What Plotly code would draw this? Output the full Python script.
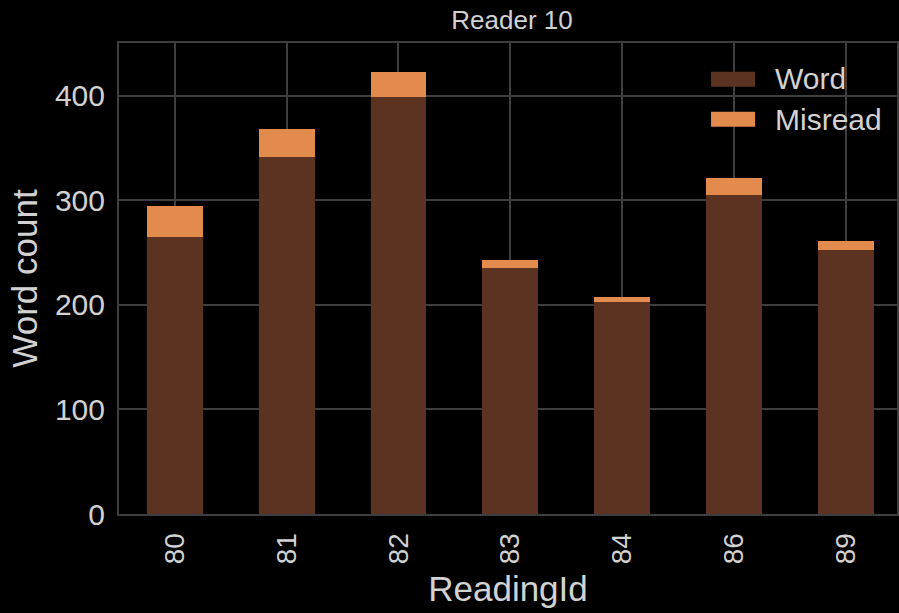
import plotly.graph_objects as go

reading_ids = ["80", "81", "82", "83", "84", "86", "89"]
word_counts = [265, 342, 399, 235, 203, 305, 253]
misread_counts = [30, 26, 24, 8, 5, 16, 8]
series_names = ["Word", "Misread"]

word_color = "#5c3320"
misread_color = "#e38a4d"
text_color = "#d2d2d2"
grid_color = "#3e3e3e"
font_family = "Liberation Sans, Arial, sans-serif"

fig = go.Figure()
fig.add_trace(go.Bar(x=reading_ids, y=word_counts, name=series_names[0],
                     marker=dict(color=word_color, line=dict(width=0)), width=0.5))
fig.add_trace(go.Bar(x=reading_ids, y=misread_counts, name=series_names[1],
                     marker=dict(color=misread_color, line=dict(width=0)), width=0.5))

# legend drawn as patches + labels (matplotlib-style wide patches)
legend_colors = [word_color, misread_color]
legend_rows = [(0.9072, 0.9391, 0.9236), (0.8223, 0.8542, 0.8386)]
for name, col, (y0, y1, yc) in zip(series_names, legend_colors, legend_rows):
    fig.add_shape(type="rect", xref="paper", yref="paper",
                  x0=0.761, x1=0.8176, y0=y0, y1=y1,
                  fillcolor=col, line=dict(width=0), layer="above")
    fig.add_annotation(xref="paper", yref="paper", x=0.841, y=yc,
                       xanchor="left", yanchor="middle", text=name, showarrow=False,
                       font=dict(size=30, color=text_color))

fig.update_layout(
    barmode="stack",
    width=899, height=613,
    showlegend=False,
    paper_bgcolor="black", plot_bgcolor="black",
    margin=dict(l=119, r=0, t=43, b=99),
    font=dict(family=font_family, color=text_color, size=30),
    title=dict(text="Reader 10", x=0.5695, xanchor="center", y=0.967, yanchor="middle",
               font=dict(size=26, color=text_color)),
    xaxis=dict(
        range=[-0.5, 6.46], type="category",
        tickangle=-90, showgrid=True, gridcolor=grid_color, gridwidth=2,
        showline=True, linecolor=grid_color, linewidth=2, mirror=True,
        ticks="", ticklabelstandoff=6,
        title=dict(text="ReadingId", font=dict(size=35), standoff=13),
        tickfont=dict(size=28),
    ),
    yaxis=dict(
        range=[0, 450.6], tickvals=[0, 100, 200, 300, 400],
        showgrid=True, gridcolor=grid_color, gridwidth=2,
        showline=True, linecolor=grid_color, linewidth=2, mirror=True,
        zeroline=False, ticks="", ticklabelstandoff=6,
        title=dict(text="Word count", font=dict(size=35), standoff=7),
        tickfont=dict(size=30),
    ),
)

fig.write_html("out.html", config={"displayModeBar": False},
               post_script="document.body.style.margin='0';document.body.style.background='black';")
